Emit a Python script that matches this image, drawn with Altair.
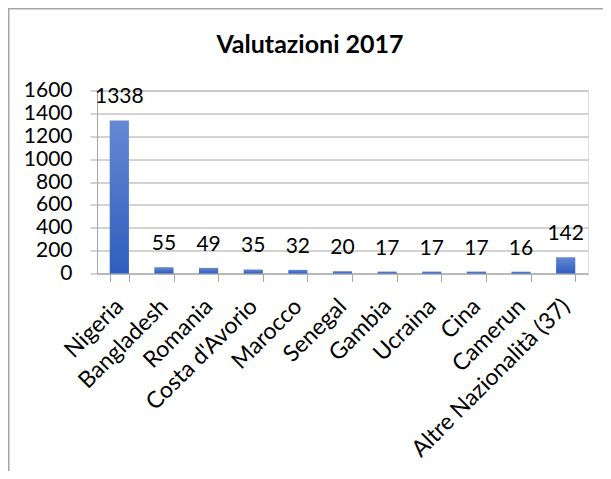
import altair as alt
import pandas as pd

categories = ["Nigeria", "Bangladesh", "Romania", "Costa d'Avorio", "Marocco",
              "Senegal", "Gambia", "Ucraina", "Cina", "Camerun",
              "Altre Nazionalità (37)"]
values = [1338, 55, 49, 35, 32, 20, 17, 17, 17, 16, 142]
y_ticks = [0, 200, 400, 600, 800, 1000, 1200, 1400, 1600]
title_text = "Valutazioni 2017"

df = pd.DataFrame({"paese": categories, "valore": values})

FONT = "Lato"
GRID = "#a6a6a6"
W, H = 491, 183
PL, PT = 89, 82.5

x_enc = alt.X("paese:N", sort=categories, title=None,
              scale=alt.Scale(paddingInner=0.57, paddingOuter=0.285),
              axis=alt.Axis(labelAngle=-45, labelAlign="right", labelBaseline="middle",
                            labelFontSize=23, labelFont=FONT, labelColor="#000000",
                            labelPadding=21, tickSize=8, tickBand="extent",
                            tickColor=GRID, domainColor=GRID, grid=False,
                            labelOverlap=False, labelLimit=0))
y_enc = alt.Y("valore:Q", title=None,
              scale=alt.Scale(domain=[0, 1600], nice=False),
              axis=alt.Axis(values=y_ticks, format="d", labelOverlap=False,
                            labelFontSize=21, labelFont=FONT,
                            labelColor="#000000", labelPadding=18, tickSize=7,
                            tickColor=GRID, domainColor=GRID, gridColor=GRID,
                            gridWidth=1, grid=True))

base = alt.Chart(df)

bars = base.mark_bar(
    color=alt.Gradient(
        gradient="linear", x1=0, y1=0, x2=0, y2=1,
        stops=[alt.GradientStop(color="#6688d2", offset=0),
               alt.GradientStop(color="#2e5ebf", offset=1)])
).encode(x=x_enc, y=y_enc)

labels = base.mark_text(baseline="alphabetic", dy=-17, fontSize=21, font=FONT,
                        color="#000000").encode(
    x=x_enc,
    y=y_enc,
    text=alt.Text("valore:Q"))

title = alt.Chart(pd.DataFrame({"t": [title_text]})).mark_text(
    fontSize=25, font=FONT, fontWeight="bold", color="#000000",
    baseline="alphabetic", align="center"
).encode(x=alt.value(213), y=alt.value(-38), text="t:N")

border_left = alt.Chart(pd.DataFrame({"a": [0]})).mark_rule(
    color="#a6a6a6", strokeWidth=1.5
).encode(x=alt.value(-PL + 0.75), y=alt.value(-PT), y2=alt.value(H + 300))

border_top = alt.Chart(pd.DataFrame({"a": [0]})).mark_rule(
    color="#a6a6a6", strokeWidth=1.5
).encode(y=alt.value(-PT + 0.75), x=alt.value(-PL), x2=alt.value(W + 100))

chart = alt.layer(bars, labels, title, border_left, border_top).properties(
    width=W, height=H,
    autosize=alt.AutoSizeParams(type="none"),
    padding={"left": PL, "top": PT, "right": 15, "bottom": 197.5},
).configure_view(stroke=None).configure(background="white")

chart.save("out.html", embed_options={"renderer": "svg", "actions": False})
